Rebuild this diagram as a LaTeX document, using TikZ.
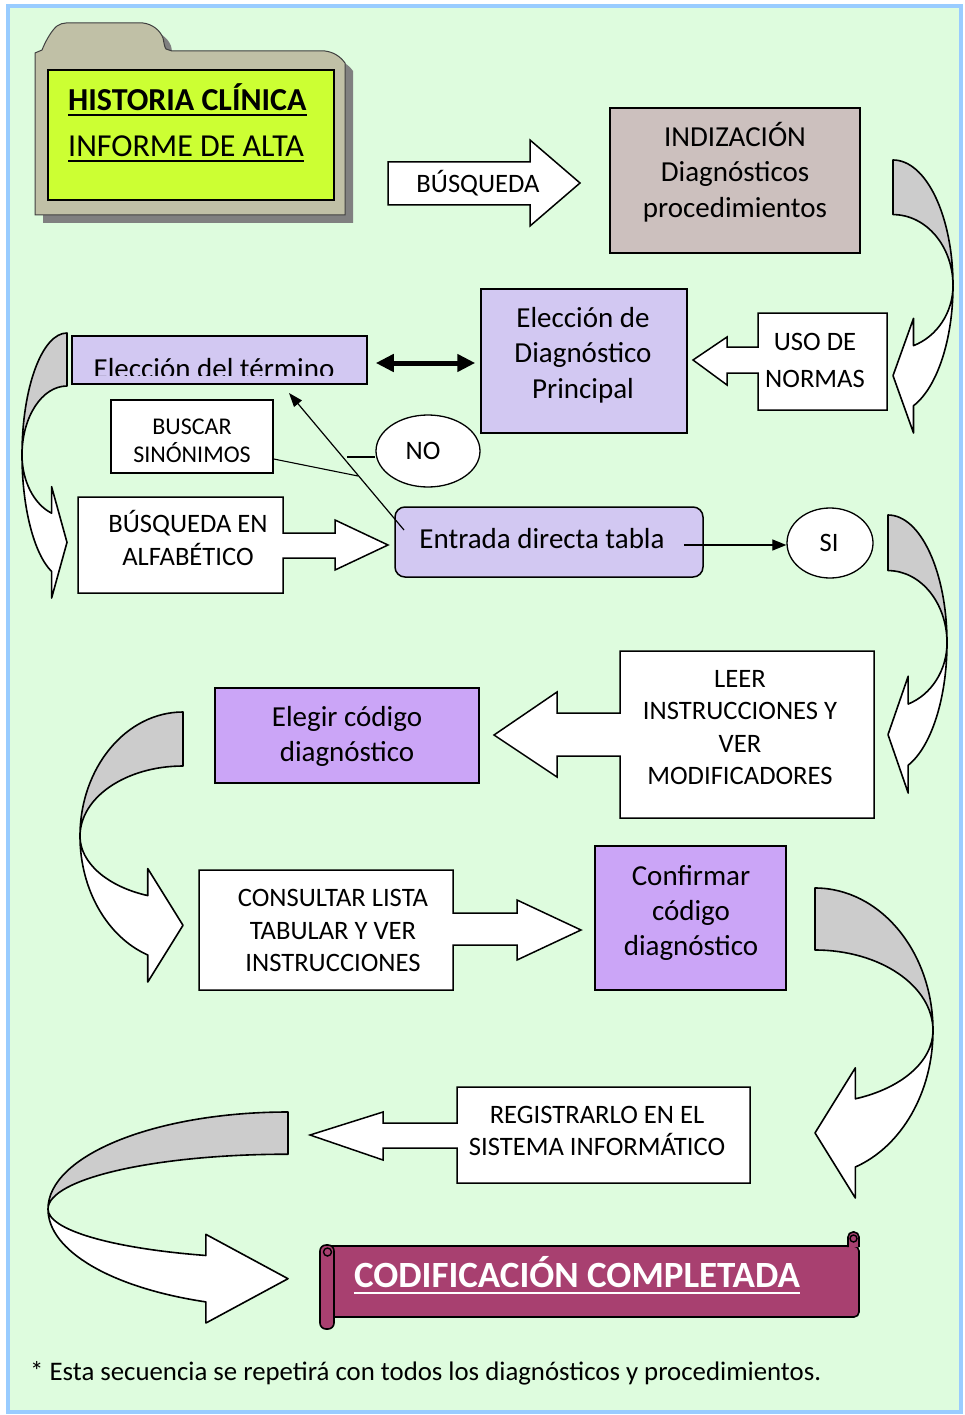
\documentclass[tikz,border=0pt]{standalone}
\usepackage{fontspec}
\setmainfont{Carlito}
\usetikzlibrary{arrows.meta,shapes.geometric}

\definecolor{bggreen}{RGB}{222,252,222}
\definecolor{frameblue}{RGB}{153,204,255}
\definecolor{foldercol}{RGB}{192,192,166}
\definecolor{foldershadow}{RGB}{128,128,128}
\definecolor{limegreen}{RGB}{204,255,51}
\definecolor{indcol}{RGB}{204,192,190}
\definecolor{lavcol}{RGB}{210,200,242}
\definecolor{purcol}{RGB}{203,165,247}
\definecolor{bandgray}{RGB}{204,204,204}
\definecolor{scrollcol}{RGB}{168,64,112}

\newcommand{\fsz}[2]{\fontsize{#1}{#2}\selectfont}

\tikzset{
  cvback/.style={fill=bandgray, draw=black, line width=1.6pt, line join=round},
  cvfront/.style={fill=white, draw=black, line width=1.6pt, line join=round},
  box/.style={draw=black, line width=1.5pt, inner sep=0pt},
  callout/.style={fill=white, draw=black, line width=1.5pt, line join=miter},
  txt/.style={inner sep=0pt, align=center, text=black},
  oval/.style={ellipse, draw=black, fill=white, line width=1.3pt, inner sep=0pt},
  thinline/.style={draw=black, line width=1.1pt},
  thinarrow/.style={draw=black, line width=1.2pt, -{Triangle[length=14pt,width=11pt]}},
  dblarrow/.style={draw=black, line width=5pt, {Triangle[length=18pt,width=17pt]}-{Triangle[length=18pt,width=17pt]}},
  scrollsty/.style={fill=scrollcol, draw=black, line width=1.6pt},
}

% curved ribbon arrow: x0 y0 (top-left, or top-right if W negative), W, H
\newcommand{\curvedarrow}[4]{%
  \begin{scope}[shift={(#1,#2)},xscale=#3,yscale=#4]
    \filldraw[cvback] (0,0) .. controls (0.552,0) and (1,0.206) .. (1,0.46)
      .. controls (1,0.316) and (0.552,0.2) .. (0,0.2) -- cycle;
    \filldraw[cvfront] (1,0.46) .. controls (1,0.657) and (0.737,0.833) .. (0.342,0.9)
      -- (0.342,1) -- (0,0.79) -- (0.342,0.58) -- (0.342,0.68)
      .. controls (0.737,0.646) and (1,0.558) .. (1,0.46) -- cycle;
  \end{scope}}

\newcommand{\folderpath}[1]{%
  \filldraw[#1] (35,215) -- (35,53) -- (42,50) .. controls (46,40) and (52,30) .. (57,26)
    .. controls (60,24) and (63,23) .. (66,23) -- (143,23) .. controls (152,24) and (160,30) .. (163,38)
    .. controls (164,42) and (164,46) .. (166,49) -- (172,51) -- (325,51)
    .. controls (333,52) and (340,56) .. (345,63) -- (345,215) -- cycle;}

\newcommand{\mltext}[6]{%
  \foreach \ln [count=\i] in {#6}{%
    \node[txt, anchor=base, font=#2] (#1\i) at (#3,{#4+(\i-1)*#5}) {\ln};}}

\begin{document}
\begin{tikzpicture}[x=1pt,y=-1pt]
\useasboundingbox (0,0) rectangle (965,1415);
\fill[white] (0,0) rectangle (965,1415);
\fill[bggreen] (8,6) rectangle (961,1412);
\draw[frameblue, line width=4pt] (8,6) rectangle (961,1412);

% ---------- folder ----------
\folderpath{fill=foldershadow, draw=none, shift={(8,8)}}
\folderpath{fill=foldercol, draw=black!75, line width=1pt}
\node[box, fill=limegreen, minimum width=286, minimum height=130] (hist) at (191,135) {};
\node[txt, anchor=base west, font=\bfseries\fsz{32}{38}] (histtitle) at (68,111) {HISTORIA CLÍNICA};
\draw[line width=2.2pt] ([yshift=-4pt]histtitle.base west) -- ([yshift=-4pt]histtitle.base east);
\node[txt, anchor=base west, font=\fsz{32}{38}] (informe) at (68,157) {INFORME DE ALTA};
\draw[line width=1.8pt] ([yshift=-4pt]informe.base west) -- ([yshift=-4pt]informe.base east);

% ---------- busqueda arrow ----------
\filldraw[callout] (388,162) -- (530,162) -- (530,140) -- (580,183) -- (530,226) -- (530,205) -- (388,205) -- cycle;
\node[txt, anchor=base, font=\fsz{26.6}{32}] (busq) at (478,192.6) {BÚSQUEDA};

% ---------- indizacion ----------
\node[box, fill=indcol, minimum width=250, minimum height=145] (ind) at (735,180.5) {};
\mltext{indt}{\fsz{29}{35}}{735}{146.7}{35.2}{INDIZACIÓN,Diagnósticos,procedimientos}

\curvedarrow{893}{160}{60}{273}

% ---------- uso de normas ----------
\filldraw[callout] (758,313) -- (887,313) -- (887,410) -- (758,410) -- (758,373) -- (727,373) -- (727,385)
  -- (693,360) -- (727,337) -- (727,347) -- (758,347) -- cycle;
\mltext{uso}{\fsz{26.6}{32}}{815}{350.5}{37}{USO DE,NORMAS}

% ---------- eleccion diagnostico principal ----------
\node[box, fill=lavcol, minimum width=206, minimum height=144] (elec) at (584,361) {};
\mltext{elect}{\fsz{29}{35}}{583}{327}{35.5}{Elección de,Diagnóstico,Principal}

% ---------- eleccion del termino ----------
\node[box, fill=lavcol, minimum width=295, minimum height=48] (term) at (219.5,360) {};
\begin{scope}
  \clip (72,336) rectangle (367,375.5);
  \node[txt, anchor=base, font=\fsz{29}{35}] (termt) at (214,378) {Elección del término};
\end{scope}
\draw[dblarrow, shorten <=8pt, shorten >=5pt] ([yshift=-3pt]term.east) -- ([yshift=-3pt]term.east -| elec.west);

% ---------- buscar sinonimos / NO ----------
\node[box, fill=white, minimum width=162, minimum height=73] (buscar) at (192,436.5) {};
\mltext{buscart}{\fsz{24}{29}}{192}{434}{28.7}{BUSCAR,SINÓNIMOS}
\node[oval, minimum width=104, minimum height=72] (no) at (428,451) {};
\node[txt, anchor=base, font=\fsz{26.6}{32}] (not) at (423,459.5) {NO};
\coordinate (nojoin) at (347,457);
\coordinate (snend) at (358,476);
\draw[thinline] (nojoin) -- (nojoin -| no.west);
\draw[thinline] (buscar.east |- 0,459) -- (snend);

% ---------- busqueda en alfabetico ----------
\filldraw[callout] (78,497) -- (283,497) -- (283,533) -- (335,533) -- (335,520) -- (388,545) -- (335,570)
  -- (335,558) -- (283,558) -- (283,593) -- (78,593) -- cycle;
\mltext{alf}{\fsz{26.6}{32}}{188}{532.7}{32.3}{BÚSQUEDA EN,ALFABÉTICO}

\curvedarrow{67}{333}{-45}{265}

% ---------- entrada directa tabla ----------
\node[box, fill=lavcol, rounded corners=10pt, minimum width=308, minimum height=70] (entrada) at (549,542) {};
\node[txt, anchor=base, font=\fsz{29}{35}] (entradat) at (542,548) {Entrada directa tabla};
\coordinate (diagstart) at (404,530);
\coordinate (diagtip) at (289,393);
\draw[thinarrow, -{Triangle[length=14pt,width=10pt]}] (diagstart) -- (diagtip);
\node[oval, minimum width=86, minimum height=70] (si) at (830,543) {};
\node[txt, anchor=base, font=\fsz{26.6}{32}] (sit) at (829,551.6) {SI};
\draw[thinarrow, shorten <=-20pt] ([yshift=-3pt]entrada.east) -- ([yshift=-2pt]si.west);

\curvedarrow{888}{515}{59}{278}

% ---------- leer instrucciones ----------
\filldraw[callout] (620,651) -- (874,651) -- (874,818) -- (620,818) -- (620,756) -- (557,756) -- (557,777)
  -- (494,735) -- (557,692) -- (557,713) -- (620,713) -- cycle;
\mltext{leer}{\fsz{26.6}{32}}{740}{687.6}{32.3}{LEER,INSTRUCCIONES Y,VER,MODIFICADORES}

% ---------- elegir codigo ----------
\node[box, fill=purcol, minimum width=264, minimum height=95] (elegir) at (347,735.5) {};
\mltext{elegirt}{\fsz{29}{35}}{347}{726.7}{35}{Elegir código,diagnóstico}

\curvedarrow{183}{712}{-103}{270}

% ---------- consultar lista ----------
\filldraw[callout] (199,870) -- (453,870) -- (453,913) -- (517,913) -- (517,900) -- (581,930) -- (517,960)
  -- (517,945) -- (453,945) -- (453,990) -- (199,990) -- cycle;
\mltext{cons}{\fsz{26.6}{32}}{333}{906.7}{32.5}{CONSULTAR LISTA,TABULAR Y VER,INSTRUCCIONES}

% ---------- confirmar codigo ----------
\node[box, fill=purcol, minimum width=191, minimum height=144] (confirmar) at (690.5,918) {};
\mltext{conft}{\fsz{29}{35}}{691}{885}{35.3}{Confirmar,código,diagnóstico}

\curvedarrow{815}{888}{118}{310}

% ---------- registrarlo ----------
\filldraw[callout] (457,1087) -- (750,1087) -- (750,1183) -- (457,1183) -- (457,1148) -- (383,1148) -- (383,1160)
  -- (310,1135) -- (383,1112) -- (383,1123) -- (457,1123) -- cycle;
\mltext{reg}{\fsz{26.6}{32}}{597}{1123.5}{32}{REGISTRARLO EN EL,SISTEMA INFORMÁTICO}

\curvedarrow{288}{1112}{-240}{211}

% ---------- scroll ----------
\filldraw[scrollsty, rounded corners=5pt] (326,1246) -- (859,1246) -- (859,1317) -- (326,1317) -- cycle;
\filldraw[scrollsty, rounded corners=5pt] (848,1247) -- (848,1232) -- (859,1232) -- (859,1247);
\draw[line width=1.4pt] (853.5,1238.5) circle (3.5);
\filldraw[scrollsty, rounded corners=6pt] (320,1245) rectangle (334,1329);
\draw[line width=1.4pt] (327.5,1252) circle (4);
\node[txt, anchor=base, text=white, font=\bfseries\fsz{37}{44}] (codif) at (577,1287) {CODIFICACIÓN COMPLETADA};
\draw[white, line width=2.6pt] ([yshift=-6pt]codif.base west) -- ([yshift=-6pt]codif.base east);

% ---------- footnote ----------
\node[txt, anchor=base west, font=\fsz{26.8}{32}] (foot) at (30,1380) {* Esta secuencia se repetirá con todos los diagnósticos y procedimientos.};
\end{tikzpicture}
\end{document}
